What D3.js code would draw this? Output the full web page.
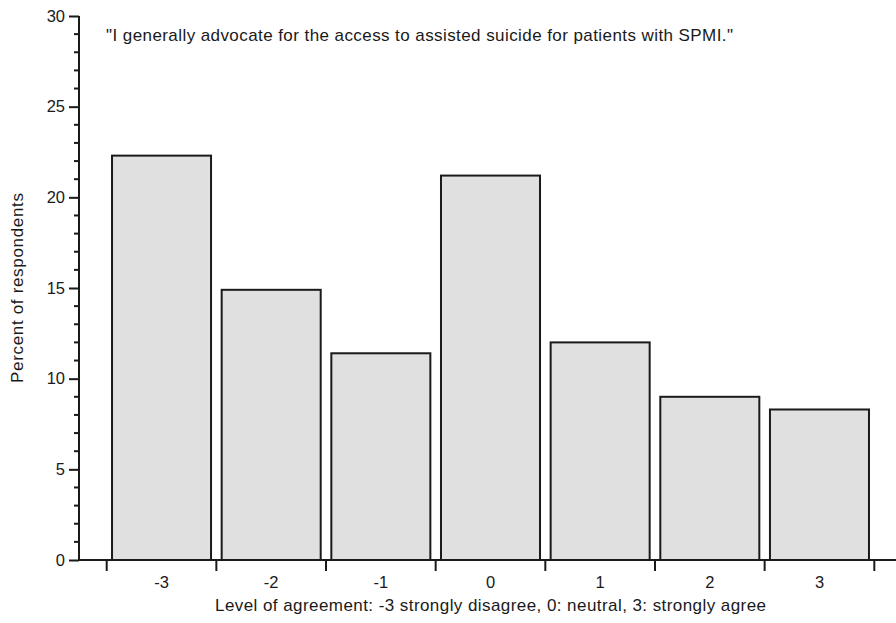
<!DOCTYPE html>
<html>
<head>
<meta charset="utf-8">
<script src="https://cdn.jsdelivr.net/npm/d3@7/dist/d3.min.js"></script>
<style>
  html, body { margin: 0; padding: 0; background: #fff; }
  svg { display: block; font-family: "Liberation Sans", Arial, Helvetica, sans-serif; }
</style>
</head>
<body>
<svg id="chart" width="896" height="623"></svg>
<script>
// Agreement levels and share of respondents (%)
const categories = ["-3", "-2", "-1", "0", "1", "2", "3"];
const percents = [22.3, 14.9, 11.4, 21.2, 12.0, 9.0, 8.3];
const yMajorTicks = [0, 5, 10, 15, 20, 25, 30];

const titleText = "\"I generally advocate for the access to assisted suicide for patients with SPMI.\"";
const yLabel = "Percent of respondents";
const xLabel = "Level of agreement: -3 strongly disagree, 0: neutral, 3: strongly agree";

const svg = d3.select("#chart");
const ink = "#1a1a1a";

const axisX = 79, baseY = 560, topY = 16;
const x = d3.scaleBand().domain(categories).range([106.7, 874.3]).paddingInner(0.097).paddingOuter(0.0485);
const y = d3.scaleLinear().domain([0, 30]).range([baseY, topY]);

// Bars
svg.append("g").selectAll("rect")
  .data(categories.map((c, i) => ({ c, v: percents[i] })))
  .join("rect")
  .attr("x", d => x(d.c))
  .attr("y", d => y(d.v))
  .attr("width", x.bandwidth())
  .attr("height", d => y(0) - y(d.v))
  .attr("fill", "#e0e0e0")
  .attr("stroke", ink)
  .attr("stroke-width", 2);

// Y axis: major ticks with labels, minor ticks every unit
const yAxis = svg.append("g").attr("transform", `translate(${axisX},0)`);
yAxis.call(d3.axisLeft(y).tickValues(yMajorTicks).tickSize(10).tickPadding(4).tickSizeOuter(0));
yAxis.append("g").selectAll("line")
  .data(d3.range(0, 31).filter(v => v % 5 !== 0))
  .join("line")
  .attr("x1", -5).attr("x2", 0)
  .attr("y1", d => y(d)).attr("y2", d => y(d));
yAxis.select(".domain").attr("d", `M0,${y(30)}V${y(0)}`);
yAxis.selectAll("path, line").attr("stroke", ink).attr("stroke-width", 2);
yAxis.selectAll("text").attr("font-size", 16.5).attr("fill", ink)
  .attr("font-family", "Liberation Sans, Arial, sans-serif");

// X axis: ticks at band boundaries, labels at band centres
const xAxis = svg.append("g");
xAxis.append("line")
  .attr("x1", axisX - 1).attr("x2", 896)
  .attr("y1", baseY).attr("y2", baseY)
  .attr("stroke", ink).attr("stroke-width", 2);
const step = x.step();
const bounds = d3.range(categories.length + 1).map(i => x(categories[0]) - (step - x.bandwidth()) / 2 + i * step);
xAxis.selectAll("line.tick")
  .data(bounds)
  .join("line")
  .attr("class", "tick")
  .attr("x1", d => d).attr("x2", d => d)
  .attr("y1", baseY).attr("y2", baseY + 11)
  .attr("stroke", ink).attr("stroke-width", 2);
xAxis.selectAll("text")
  .data(categories)
  .join("text")
  .attr("x", d => x(d) + x.bandwidth() / 2)
  .attr("y", 588)
  .attr("text-anchor", "middle")
  .attr("font-size", 16.5)
  .attr("fill", ink)
  .text(d => d);

// Titles
svg.append("text")
  .attr("x", 106).attr("y", 41)
  .attr("font-size", 17).attr("fill", ink)
  .attr("textLength", 627).attr("lengthAdjust", "spacing")
  .text(titleText);

svg.append("text")
  .attr("transform", `translate(23,288) rotate(-90)`)
  .attr("text-anchor", "middle")
  .attr("font-size", 17).attr("fill", ink)
  .attr("textLength", 190).attr("lengthAdjust", "spacing")
  .text(yLabel);

svg.append("text")
  .attr("x", 490.5).attr("y", 611)
  .attr("text-anchor", "middle")
  .attr("font-size", 17).attr("fill", ink)
  .attr("textLength", 551).attr("lengthAdjust", "spacing")
  .text(xLabel);
</script>
</body>
</html>
